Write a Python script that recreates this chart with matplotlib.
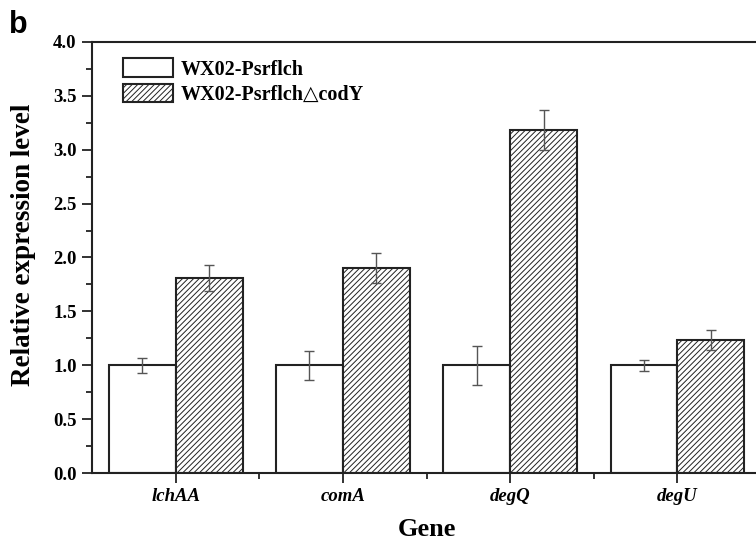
import matplotlib
matplotlib.use('Agg')
import matplotlib.pyplot as plt
import numpy as np

plt.rcParams['font.family'] = ['Liberation Serif', 'DejaVu Serif']
plt.rcParams['hatch.linewidth'] = 0.7

genes = ['lchAA', 'comA', 'degQ', 'degU']
wt_mean = [1.0, 1.0, 1.0, 1.0]
wt_err = [0.07, 0.135, 0.18, 0.05]
mut_mean = [1.81, 1.90, 3.18, 1.235]
mut_err = [0.12, 0.14, 0.185, 0.09]
labels = ['WX02-Psrflch', 'WX02-Psrflch\u25b3codY']

fig = plt.figure(figsize=(7.56, 5.43), dpi=100)
ax = fig.add_axes([0.1217, 0.1289, 0.885, 0.7938])

x = np.arange(len(genes))
w = 0.4
ekw = dict(ecolor='#555555', elinewidth=1.0, capsize=3.6, capthick=1.0)
ax.bar(x - w / 2, wt_mean, w, yerr=wt_err, color='white', edgecolor='#222222',
       linewidth=1.5, error_kw=ekw, label=labels[0])
ax.bar(x + w / 2, mut_mean, w, yerr=mut_err, color='white', edgecolor='#222222',
       linewidth=1.5, hatch='//////', error_kw=ekw, label=labels[1])

ax.set_xlim(-0.5, 3.5)
ax.set_ylim(0, 4.0)
ax.set_yticks(np.arange(0, 4.01, 0.5))
ax.set_yticks(np.arange(0.25, 4.0, 0.5), minor=True)
ax.set_yticklabels(['%.1f' % v for v in np.arange(0, 4.01, 0.5)], fontweight='bold', fontsize=13.5)
ax.set_xticks(x)
ax.set_xticks(x[:-1] + 0.5, minor=True)
ax.set_xticklabels(genes, fontstyle='italic', fontweight='bold', fontsize=13.5)
ax.tick_params(axis='both', which='major', direction='out', length=7, width=1.3, color='#222222')
ax.tick_params(axis='both', which='minor', direction='out', length=4, width=1.3, color='#222222')
ax.tick_params(axis='x', pad=4)
ax.tick_params(axis='y', pad=4)

for s in ax.spines.values():
    s.set_linewidth(1.5)
    s.set_color('#222222')

ax.set_ylabel('Relative expression level', fontsize=19.5, fontweight='bold')
ax.yaxis.set_label_coords(-0.083, 0.53)
ax.set_xlabel('Gene', fontsize=19, fontweight='bold', labelpad=9)

ax.legend(loc='upper left', bbox_to_anchor=(0.046, 0.962), frameon=False,
          prop=dict(weight='bold', size=14.5), handlelength=2.5, handleheight=1.05,
          labelspacing=0.2, handletextpad=0.4, borderpad=0, borderaxespad=0)

fig.text(0.012, 0.982, 'b', fontsize=22, fontweight='bold', family='Liberation Sans',
         va='top', ha='left')

fig.savefig('out.png', dpi=100)
